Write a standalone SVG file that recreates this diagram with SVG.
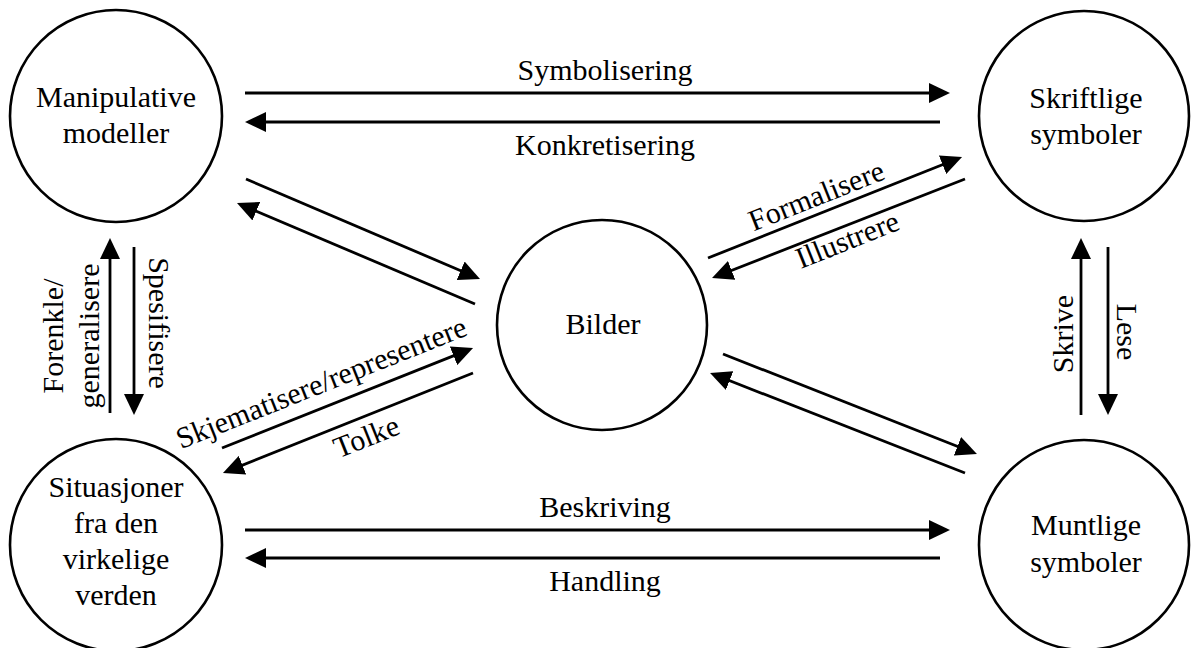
<svg xmlns="http://www.w3.org/2000/svg" width="1192" height="648" viewBox="0 0 1192 648">
  <defs>
    <marker id="ah" markerUnits="userSpaceOnUse" markerWidth="21" markerHeight="20" refX="16" refY="10" orient="auto">
      <path d="M0,0 L21,10 L0,20 Z" fill="#000"/>
    </marker>
    <style>
      .node circle { fill: #fff; stroke: #000; stroke-width: 2.6; }
      text { font-family: "Liberation Serif", "Times New Roman", serif; font-size: 30px; fill: #000; text-anchor: middle; }
      .edges line { stroke: #000; stroke-width: 2.8; marker-end: url(#ah); }
    </style>
  </defs>
  <rect width="1192" height="648" fill="#fff"/>

  <g id="node-manipulative" class="node">
    <circle cx="116" cy="116" r="106"/>
    <text x="116" y="107">Manipulative</text>
    <text x="116" y="143">modeller</text>
  </g>
  <g id="node-skriftlige" class="node">
    <circle cx="1084" cy="116" r="105"/>
    <text x="1086" y="108">Skriftlige</text>
    <text x="1086" y="144">symboler</text>
  </g>
  <g id="node-bilder" class="node">
    <circle cx="602" cy="325" r="105"/>
    <text x="603" y="334">Bilder</text>
  </g>
  <g id="node-situasjoner" class="node">
    <circle cx="116" cy="545" r="106"/>
    <text x="116" y="497">Situasjoner</text>
    <text x="116" y="533">fra den</text>
    <text x="116" y="569">virkelige</text>
    <text x="116" y="605">verden</text>
  </g>
  <g id="node-muntlige" class="node">
    <circle cx="1084" cy="545" r="105"/>
    <text x="1086" y="535">Muntlige</text>
    <text x="1086" y="572">symboler</text>
  </g>

  <g id="connectors" class="edges">
    <line x1="245" y1="93" x2="945" y2="93"/>
    <line x1="940" y1="122" x2="250" y2="122"/>
    <line x1="245" y1="530" x2="945" y2="530"/>
    <line x1="940" y1="558" x2="250" y2="558"/>
    <line x1="110" y1="413" x2="110" y2="243"/>
    <line x1="134" y1="247" x2="134" y2="410"/>
    <line x1="1081" y1="415" x2="1081" y2="243"/>
    <line x1="1108" y1="247" x2="1108" y2="410"/>
    <line x1="246" y1="179" x2="475.4" y2="277"/>
    <line x1="475" y1="304" x2="241.6" y2="205"/>
    <line x1="222" y1="448" x2="468.4" y2="349.9"/>
    <line x1="473" y1="373" x2="227.6" y2="471.1"/>
    <line x1="708" y1="258" x2="957.4" y2="158.8"/>
    <line x1="965" y1="179" x2="716.7" y2="276.2"/>
    <line x1="723" y1="354" x2="972.3" y2="452.2"/>
    <line x1="965" y1="473" x2="714.7" y2="374.8"/>
  </g>

  <g id="labels">
    <text x="605" y="80">Symbolisering</text>
    <text x="605" y="155">Konkretisering</text>
    <text x="605" y="517">Beskriving</text>
    <text x="605" y="591">Handling</text>
    <text transform="translate(63,336) rotate(-90)">Forenkle/</text>
    <text transform="translate(99,336) rotate(-90)">generalisere</text>
    <text transform="translate(149,323) rotate(90)">Spesifisere</text>
    <text transform="translate(1073,334) rotate(-90)">Skrive</text>
    <text transform="translate(1117,332) rotate(90)">Lese</text>
    <text transform="translate(325,392) rotate(-21.7)">Skjematisere/representere</text>
    <text transform="translate(370,446) rotate(-21.7)">Tolke</text>
    <text transform="translate(820,205) rotate(-21.7)">Formalisere</text>
    <text transform="translate(851,249) rotate(-21.7)">Illustrere</text>
  </g>
</svg>
